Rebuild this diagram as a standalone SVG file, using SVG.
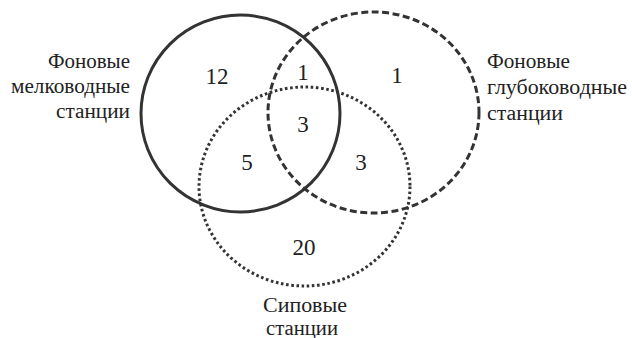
<svg xmlns="http://www.w3.org/2000/svg" width="632" height="338" viewBox="0 0 632 338">
  <style>
    .set { fill: none; stroke: #333; stroke-width: 3; }
    .deep { stroke-dasharray: 7 3.5; }
    .seep { stroke-dasharray: 2.6 2.6; }
    text { font-family: 'Liberation Serif', 'DejaVu Serif', 'Times New Roman', Times, serif; fill: #222; }
    .num { font-size: 23px; text-anchor: middle; }
    .lbl { font-size: 20px; }
  </style>
  <rect width="632" height="338" fill="#fff"/>

  <!-- set outlines with their captions -->
  <g id="set-shallow">
    <ellipse class="set" cx="240.5" cy="113.5" rx="99.5" ry="98.5"/>
    <text class="lbl" x="48" y="68" textLength="82" lengthAdjust="spacingAndGlyphs">Фоновые</text>
    <text class="lbl" x="11" y="93" textLength="119" lengthAdjust="spacingAndGlyphs">мелководные</text>
    <text class="lbl" x="56" y="118" textLength="74" lengthAdjust="spacingAndGlyphs">станции</text>
  </g>
  <g id="set-deep">
    <ellipse class="set deep" cx="373.5" cy="112.5" rx="105.5" ry="100.5"/>
    <text class="lbl" x="487" y="68" textLength="83" lengthAdjust="spacingAndGlyphs">Фоновые</text>
    <text class="lbl" x="487" y="94" textLength="140" lengthAdjust="spacingAndGlyphs">глубоководные</text>
    <text class="lbl" x="487" y="120" textLength="76" lengthAdjust="spacingAndGlyphs">станции</text>
  </g>
  <g id="set-seep">
    <ellipse class="set seep" cx="304.5" cy="186.5" rx="105.5" ry="99.5"/>
    <text class="lbl" x="263" y="312" textLength="84" lengthAdjust="spacingAndGlyphs">Сиповые</text>
    <text class="lbl" x="266" y="335" textLength="72" lengthAdjust="spacingAndGlyphs">станции</text>
  </g>

  <!-- region counts -->
  <g id="counts">
    <text class="num" x="217" y="84">12</text>
    <text class="num" x="303" y="80">1</text>
    <text class="num" x="397" y="83">1</text>
    <text class="num" x="303" y="132">3</text>
    <text class="num" x="247" y="170">5</text>
    <text class="num" x="361" y="170">3</text>
    <text class="num" x="304" y="255">20</text>
  </g>
</svg>
